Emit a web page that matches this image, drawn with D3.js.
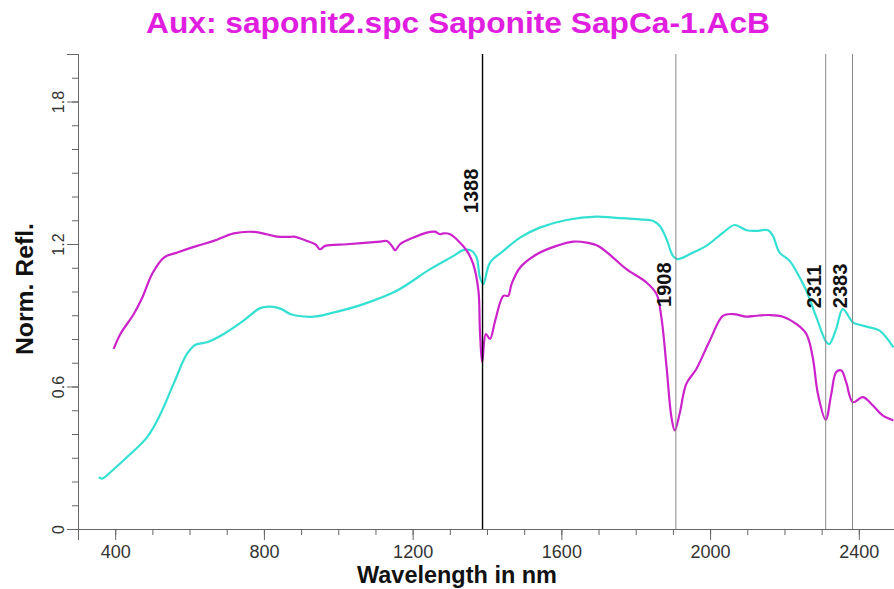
<!DOCTYPE html>
<html>
<head>
<meta charset="utf-8">
<script src="https://cdn.jsdelivr.net/npm/d3@7"></script>
<style>
	body {margin: 0; background: #fff;}
	svg {display: block; font-family: 'Liberation Sans', Arial, sans-serif;}
</style>
</head>
<body>
<div id="chart"></div>
<script>
// spectrum values
var magentaNm = [396, 414, 450, 473, 499, 531, 567, 620, 665, 719, 772, 808, 835, 871, 880, 916, 938, 951, 965, 1023,
	1113, 1131, 1144, 1153, 1166, 1202, 1238, 1260, 1274, 1283, 1301, 1323, 1346, 1363, 1377, 1381, 1387, 1397, 1408, 1422,
	1444, 1457, 1466, 1489, 1534, 1587, 1632, 1668, 1699, 1739, 1775, 1829, 1856, 1869, 1883, 1896, 1905, 1918, 1936, 1963,
	1999, 2035, 2062, 2098, 2124, 2160, 2196, 2232, 2259, 2276, 2290, 2311, 2326, 2339, 2353, 2366, 2384, 2411, 2438, 2464, 2493];
var magentaRefl = [0.758, 0.821, 0.905, 0.975, 1.073, 1.143, 1.164, 1.192, 1.213, 1.245, 1.251, 1.241, 1.231, 1.230, 1.231, 1.213, 1.199, 1.178, 1.192, 1.199,
	1.210, 1.213, 1.192, 1.174, 1.199, 1.227, 1.248, 1.252, 1.241, 1.245, 1.241, 1.213, 1.171, 1.115, 1.003, 0.835, 0.702, 0.821, 0.800, 0.877,
	0.982, 0.982, 1.031, 1.101, 1.157, 1.192, 1.210, 1.206, 1.192, 1.143, 1.094, 1.038, 0.989, 0.891, 0.681, 0.471, 0.415, 0.485, 0.611, 0.674,
	0.793, 0.898, 0.905, 0.894, 0.898, 0.901, 0.894, 0.863, 0.821, 0.723, 0.569, 0.460, 0.569, 0.660, 0.667, 0.618, 0.534, 0.555, 0.520, 0.478, 0.457];

var cyanNm = [356, 365, 387, 432, 486, 522, 557, 593, 616, 647, 692, 745, 790, 817, 844, 871, 889, 934, 978, 1068,
	1157, 1247, 1310, 1336, 1359, 1372, 1381, 1390, 1408, 1444, 1489, 1542, 1614, 1695, 1739, 1811, 1847, 1865, 1883, 1900,
	1912, 1954, 1990, 2035, 2066, 2098, 2124, 2156, 2169, 2187, 2214, 2241, 2259, 2286, 2313, 2321, 2339, 2357, 2384, 2402,
	2429, 2456, 2493];
var cyanRefl = [0.218, 0.212, 0.239, 0.303, 0.387, 0.485, 0.611, 0.737, 0.776, 0.786, 0.821, 0.877, 0.930, 0.936, 0.928, 0.905, 0.898, 0.894, 0.908, 0.947,
	1.003, 1.094, 1.150, 1.174, 1.171, 1.143, 1.059, 1.031, 1.122, 1.171, 1.227, 1.269, 1.301, 1.315, 1.311, 1.304, 1.297, 1.276, 1.220, 1.150,
	1.136, 1.164, 1.192, 1.248, 1.280, 1.258, 1.255, 1.258, 1.234, 1.164, 1.129, 1.059, 1.003, 0.891, 0.786, 0.779, 0.842, 0.926, 0.870, 0.860,
	0.849, 0.835, 0.765];

var peakNm = [1388, 1908, 2311, 2383];
var peakLabelLevel = [1.33, 0.935, 0.93, 0.93];

var xMajorTicks = [400, 800, 1200, 1600, 2000, 2400];
var yMajorTicks = [0, 0.6, 1.2, 1.8];

(function() {
	'use strict';

	var W = 894, H = 589;
	var plot = {left: 78, right: 896, top: 54, bottom: 529};

	var x = d3.scaleLinear().domain([300, 2500]).range([plot.left, plot.right]);
	var y = d3.scaleLinear().domain([0, 2]).range([plot.bottom, plot.top]);

	var svg = d3.select('#chart').append('svg')
		.attr('width', W).attr('height', H);
	svg.append('rect').attr('width', W).attr('height', H).attr('fill', '#fff');

	svg.append('defs').append('clipPath').attr('id', 'clip')
		.append('rect')
		.attr('x', plot.left).attr('y', plot.top)
		.attr('width', plot.right - plot.left).attr('height', plot.bottom - plot.top);

	// title
	svg.append('text')
		.attr('x', 146).attr('y', 33)
		.attr('font-size', 30).attr('font-weight', 'bold')
		.attr('textLength', 624).attr('lengthAdjust', 'spacingAndGlyphs')
		.attr('fill', '#e01edf')
		.text('Aux: saponit2.spc Saponite SapCa-1.AcB');

	// axes: minor ticks drawn by d3 axis, then longer major ticks on top
	var xAxis = svg.append('g')
		.attr('transform', 'translate(0,' + plot.bottom + ')')
		.call(d3.axisBottom(x).ticks(22).tickSize(6).tickSizeOuter(0).tickFormat(''));
	xAxis.append('g').call(d3.axisBottom(x).tickValues(xMajorTicks).tickSize(11).tickFormat(d3.format('d')));

	var yAxis = svg.append('g')
		.attr('transform', 'translate(' + plot.left + ',0)')
		.call(d3.axisLeft(y).tickValues(d3.range(0, 2.01, 0.1)).tickSize(6).tickSizeOuter(0).tickFormat(''));
	yAxis.append('g').call(d3.axisLeft(y).tickValues(yMajorTicks).tickSize(11).tickFormat(d3.format('.1~f')));

	svg.selectAll('.domain').attr('stroke', '#666');
	svg.selectAll('.tick line').attr('stroke', '#666');
	xAxis.selectAll('.tick text')
		.attr('font-size', 18).attr('fill', '#333').attr('dy', '0.85em')
		.attr('font-family', null);
	yAxis.selectAll('.tick text')
		.attr('font-size', 16).attr('fill', '#333')
		.attr('font-family', null)
		.attr('text-anchor', 'middle').attr('dy', null)
		.attr('transform', function(d) {return 'translate(' + (-20) + ',0) rotate(-90)';})
		.attr('x', 0).attr('y', 0).attr('dominant-baseline', 'central');

	// axis titles
	svg.append('text')
		.attr('x', 457).attr('y', 583)
		.attr('text-anchor', 'middle')
		.attr('font-size', 23).attr('font-weight', 'bold').attr('fill', '#111')
		.attr('textLength', 200).attr('lengthAdjust', 'spacingAndGlyphs')
		.text('Wavelength in nm');
	svg.append('text')
		.attr('transform', 'translate(33,289) rotate(-90)')
		.attr('text-anchor', 'middle')
		.attr('font-size', 24).attr('font-weight', 'bold').attr('fill', '#111')
		.attr('textLength', 132).attr('lengthAdjust', 'spacingAndGlyphs')
		.text('Norm. Refl.');

	// peak markers
	var peaks = svg.append('g').selectAll('g').data(peakNm).enter().append('g');
	peaks.append('line')
		.attr('x1', function(d) {return x(d);}).attr('x2', function(d) {return x(d);})
		.attr('y1', y(2)).attr('y2', y(0))
		.attr('stroke', function(d, i) {return i === 0 ? '#000' : '#888';})
		.attr('stroke-width', function(d, i) {return i === 0 ? 1.4 : 1;});

	var line = d3.line()
		.curve(d3.curveCatmullRom.alpha(0.5))
		.x(function(d) {return x(d[0]);})
		.y(function(d) {return y(d[1]);});

	var curves = svg.append('g').attr('clip-path', 'url(#clip)');
	curves.append('path')
		.datum(d3.zip(cyanNm, cyanRefl))
		.attr('d', line)
		.attr('fill', 'none').attr('stroke', '#33e0d2').attr('stroke-width', 2.2)
		.attr('stroke-linejoin', 'round');
	curves.append('path')
		.datum(d3.zip(magentaNm, magentaRefl))
		.attr('d', line)
		.attr('fill', 'none').attr('stroke', '#cc22cc').attr('stroke-width', 2.2)
		.attr('stroke-linejoin', 'round');

	peaks.append('text')
		.attr('transform', function(d, i) {
			return 'translate(' + (x(d) - 5) + ',' + y(peakLabelLevel[i]) + ') rotate(-90)';})
		.attr('font-size', 20).attr('font-weight', 'bold').attr('fill', '#111')
		.text(function(d) {return d;});
	svg.node().appendChild(peaks.node().parentNode);
})();
</script>
</body>
</html>
